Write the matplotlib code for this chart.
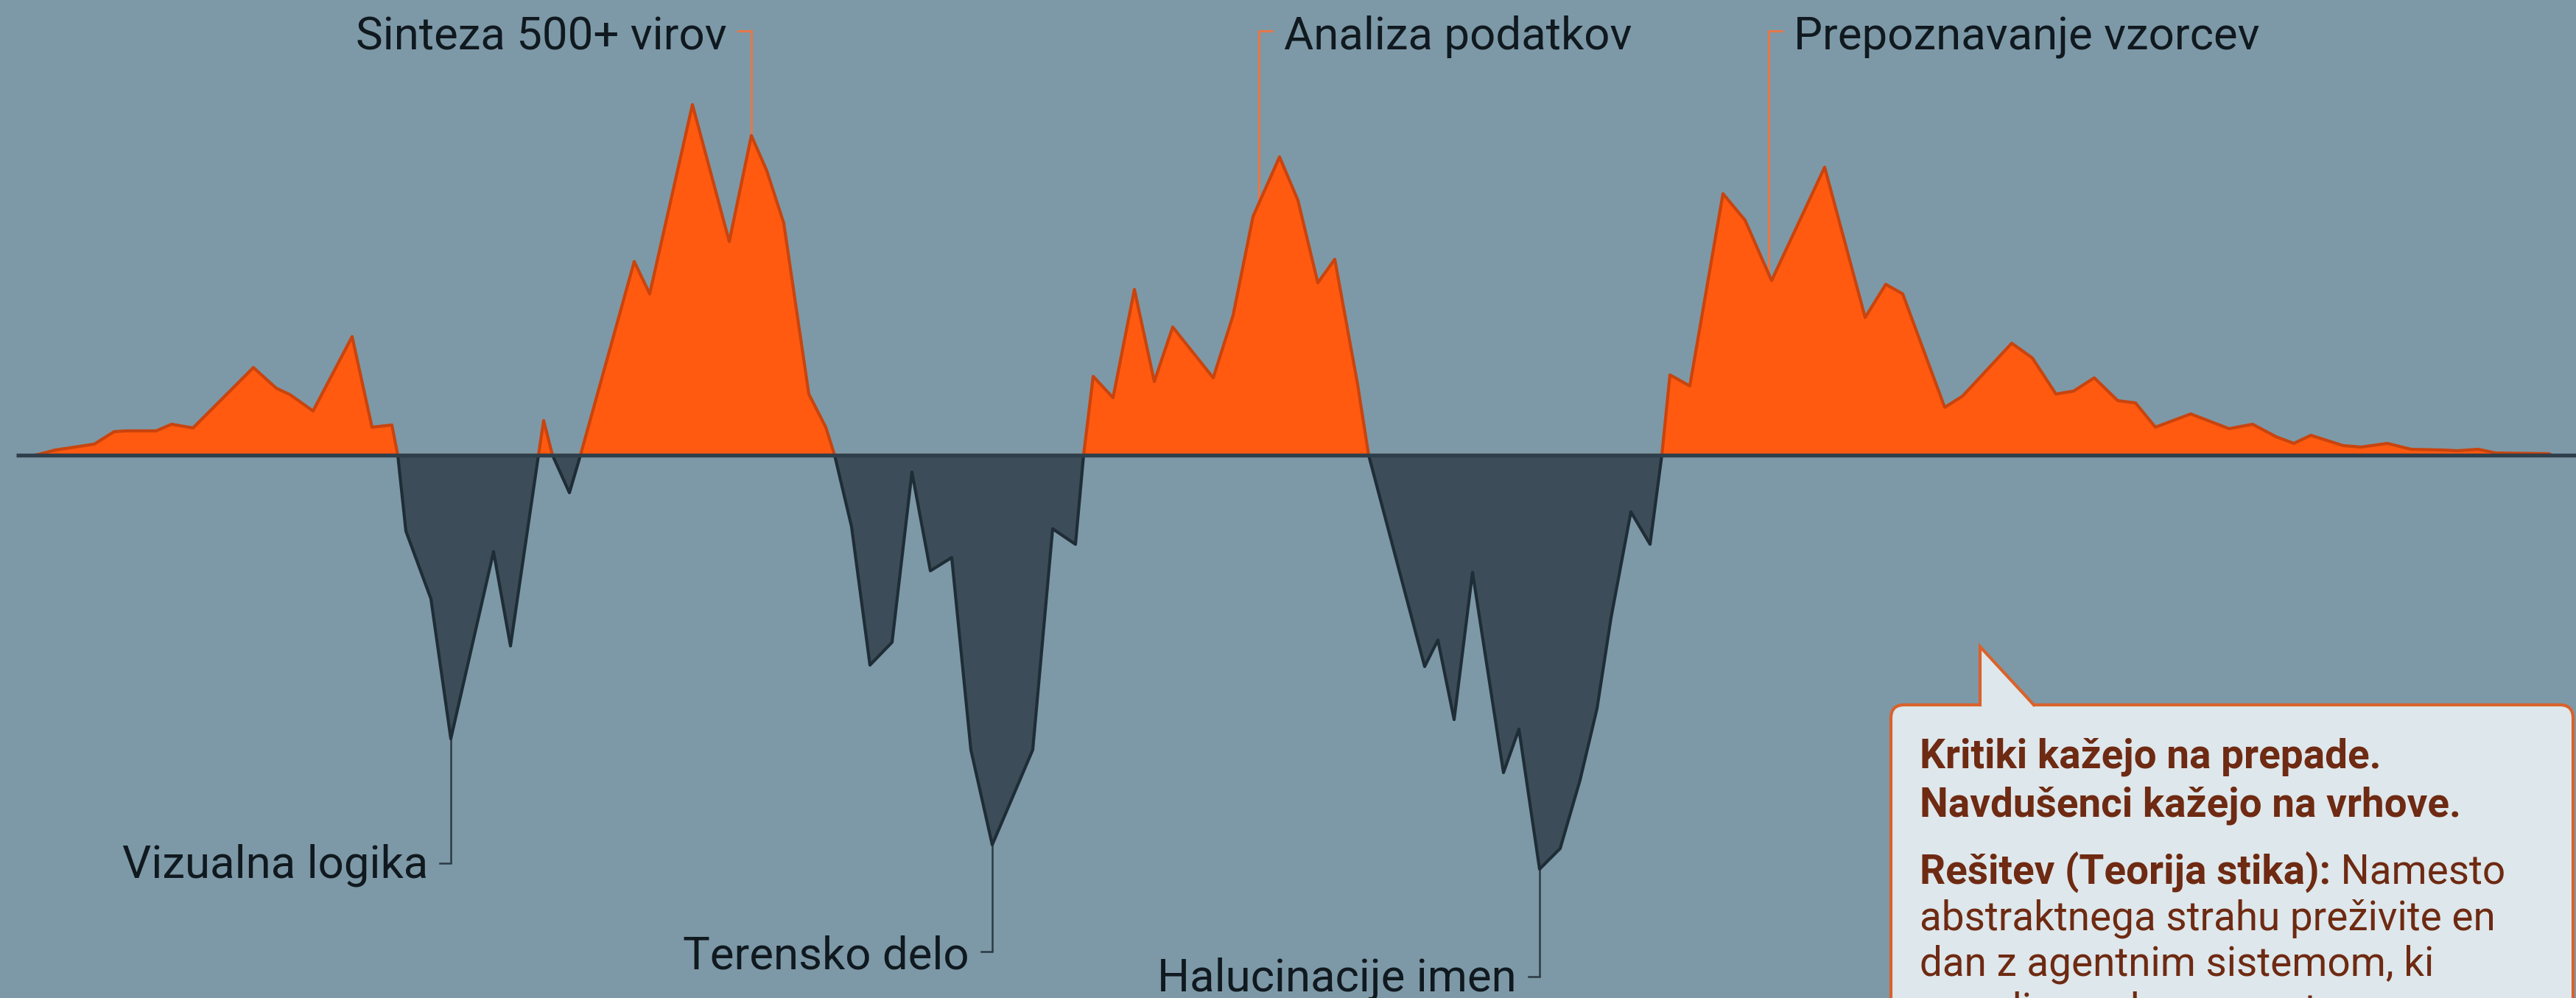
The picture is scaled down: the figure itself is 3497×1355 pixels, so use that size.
import numpy as np
import matplotlib
matplotlib.use("Agg")
import matplotlib.pyplot as plt
from matplotlib.patches import FancyBboxPatch, Polygon

# ---------------- data ----------------
# position along the journey (arbitrary units) and signed intensity
positions = [48, 75, 128, 155, 172, 212, 233, 262, 344, 375, 394, 425, 478, 505, 532, 540,
             551, 585, 612, 670, 693, 731,
             738, 750, 773, 788,
             861, 882, 940, 990, 1020, 1041, 1064, 1098, 1121, 1133,
             1156, 1181, 1211, 1238, 1263, 1292, 1318, 1347, 1402, 1429, 1460, 1471,
             1484, 1511, 1540, 1567, 1592, 1647, 1674, 1701, 1737, 1762, 1789, 1812, 1843, 1858,
             1934, 1952, 1974, 1999, 2041, 2062, 2090, 2118, 2145, 2168, 2187, 2214, 2240, 2256,
             2267, 2294, 2339, 2369, 2405, 2477, 2532, 2560, 2583, 2640, 2664, 2731, 2759, 2791,
             2815, 2843, 2875, 2899, 2926, 2974, 3026, 3058, 3090, 3114, 3137, 3181, 3205, 3241,
             3273, 3317, 3336, 3364, 3388, 3460, 3464]
values = [0, 7, 15, 32, 33, 33, 42, 37, 119, 91, 82, 60, 161, 38, 41, 0,
          -103, -195, -385, -131, -259, 0,
          47, 0, -51, 0,
          263, 219, 476, 290, 434, 386, 315, 83, 38, 0,
          -97, -285, -254, -23, -157, -139, -400, -529, -400, -100, -121, 0,
          107, 78, 225, 100, 174, 105, 190, 324, 405, 346, 234, 266, 96, 0,
          -287, -251, -359, -159, -431, -372, -562, -534, -441, -344, -221, -77, -121, 0,
          109, 94, 355, 319, 237, 391, 187, 232, 219, 65, 80, 152, 132, 83,
          87, 105, 74, 71, 38, 56, 36, 42, 25, 16, 27, 13, 11, 16,
          8, 7, 6, 8, 3, 2, 0]

peak_labels = ["Sinteza 500+ virov", "Analiza podatkov", "Prepoznavanje vzorcev"]
peak_at = [1020, 1709, 2401]
dip_labels = ["Vizualna logika", "Terensko delo", "Halucinacije imen"]
dip_at = [612, 1347, 2090]

box_lines = [
    [("Kritiki kažejo na prepade.", "bold")],
    [("Navdušenci kažejo na vrhove.", "bold")],
    [("Rešitev (Teorija stika):", "bold"), (" Namesto", "normal")],
    [("abstraktnega strahu preživite en", "normal")],
    [("dan z agentnim sistemom, ki", "normal")],
    [("naredi napake namesto vas.", "normal")],
]

# ---------------- style ----------------
BG = "#7d99a7"
ORANGE = "#ff5a10"
ORANGE_EDGE = "#c9440e"
DARK = "#3c4d59"
DARK_EDGE = "#1f2d36"
BASE = "#2e3f4b"
LEAD_OR = "#e5784a"
LEAD_DK = "#2b3a44"
TXT = "#10191f"
BOX_FILL = "#dee7eb"
BOX_EDGE = "#d9622c"
BOX_TXT = "#6e2a12"

plt.rcParams["font.family"] = ["Roboto", "DejaVu Sans"]

W, H, DPI = 3498, 1355, 100
ZERO = 618  # baseline distance from top (pixels)

fig = plt.figure(figsize=(W / DPI, H / DPI), dpi=DPI, facecolor=BG)
ax = fig.add_axes([0, 0, 1, 1])
ax.set_facecolor(BG)
ax.set_xlim(0, W)
ax.set_ylim(-(H - ZERO), ZERO)
ax.axis("off")


def yf(y_from_top):
    return ZERO - y_from_top


t = np.array(positions, dtype=float)
s = np.array(values, dtype=float)

ax.fill_between(t, s, 0, where=s >= 0, interpolate=True, color=ORANGE, lw=0, zorder=2)
ax.fill_between(t, s, 0, where=s <= 0, interpolate=True, color=DARK, lw=0, zorder=2)
ax.plot(t, np.maximum(s, 0), color=ORANGE_EDGE, lw=3.0, zorder=3)
ax.plot(t, np.minimum(s, 0), color=DARK_EDGE, lw=3.0, zorder=3)
ax.plot([22, W], [0, 0], color=BASE, lw=3.8, zorder=4, solid_capstyle="butt")

FS = 44.5
# peak labels with leaders (orange)
for i, (lab, px) in enumerate(zip(peak_labels, peak_at)):
    top = yf(42)
    v = np.interp(px, t, s)
    ax.plot([px, px], [v, top], color=LEAD_OR, lw=2.2, zorder=1.5, solid_capstyle="butt")
    if i == 0:
        ax.plot([px, px - 18], [top, top], color=LEAD_OR, lw=2.2, zorder=1.5)
        ax.text(px - 33, yf(67), lab, ha="right", va="baseline", fontsize=FS, color=TXT)
    else:
        ax.plot([px, px + 18], [top, top], color=LEAD_OR, lw=2.2, zorder=1.5)
        ax.text(px + 34, yf(67), lab, ha="left", va="baseline", fontsize=FS, color=TXT)

# dip labels with leaders (dark)
dip_hook_y = [1172, 1292, 1326]
dip_base_y = [1192, 1315, 1346]
for lab, px, hy, by in zip(dip_labels, dip_at, dip_hook_y, dip_base_y):
    v = np.interp(px, t, s)
    ax.plot([px, px], [v, yf(hy)], color=LEAD_DK, lw=1.8, zorder=1.5, solid_capstyle="butt")
    ax.plot([px, px - 15], [yf(hy), yf(hy)], color=LEAD_DK, lw=1.8, zorder=1.5)
    ax.text(px - 31, yf(by), lab, ha="right", va="baseline", fontsize=FS, color=TXT)

# callout box
bx0, bx1, btop = 2567, 3493, 957
box = FancyBboxPatch((bx0, yf(1600)), bx1 - bx0, 1600 - btop,
                     boxstyle="round,pad=0,rounding_size=18",
                     fc=BOX_FILL, ec=BOX_EDGE, lw=3, zorder=5)
ax.add_patch(box)
tail = Polygon([(2688, yf(btop + 3)), (2688, yf(878)), (2761, yf(btop + 3))],
               closed=True, fc=BOX_FILL, ec="none", zorder=6)
ax.add_patch(tail)
ax.plot([2688, 2688, 2761], [yf(btop), yf(878), yf(btop)], color=BOX_EDGE, lw=3, zorder=6,
        solid_joinstyle="miter")

BFS = 39.5
baselines = [1043, 1108, 1200, 1263, 1325, 1388]
fig.canvas.draw()
renderer = fig.canvas.get_renderer()
inv = ax.transData.inverted()
for parts, by in zip(box_lines, baselines):
    x = 2606
    for txt, weight in parts:
        tt = ax.text(x, yf(by), txt, ha="left", va="baseline", fontsize=BFS,
                     fontweight=weight, color=BOX_TXT, zorder=7)
        bb = tt.get_window_extent(renderer=renderer)
        x = inv.transform((bb.x1, bb.y0))[0]

fig.savefig("out.png", dpi=DPI, facecolor=BG)
